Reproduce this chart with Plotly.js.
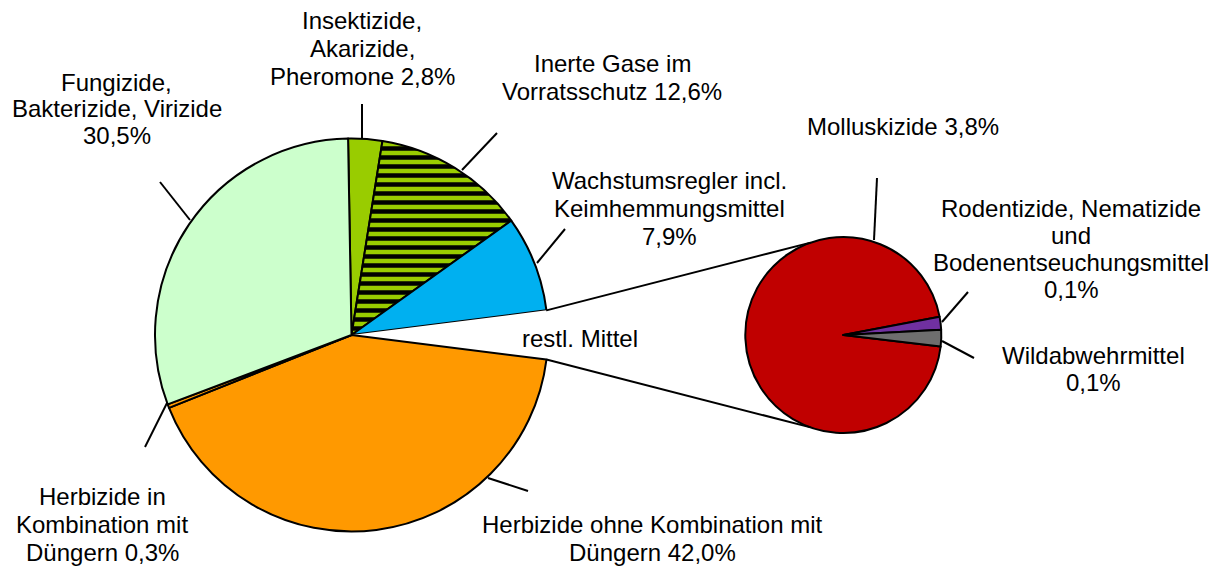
<!DOCTYPE html>
<html><head><meta charset="utf-8">
<script src="https://cdn.plot.ly/plotly-3.0.1.min.js"></script>
<style>html,body{margin:0;padding:0;background:#fff}</style>
</head><body><div id="chart" style="width:1218px;height:567px"></div>
<script>
// ---- data ----
const mainLabels = ['Insektizide, Akarizide, Pheromone', 'Inerte Gase im Vorratsschutz', 'Wachstumsregler incl. Keimhemmungsmittel', 'restl. Mittel', 'Herbizide ohne Kombination mit Düngern', 'Herbizide in Kombination mit Düngern', 'Fungizide, Bakterizide, Virizide'];
const mainValues = [2.8, 12.6, 7.9, 4.0, 42.0, 0.3, 30.5];
const subLabels = ['Molluskizide', 'Rodentizide, Nematizide und Bodenentseuchungsmittel', 'Wildabwehrmittel'];
const subValues = [3.8, 0.085, 0.11];
const labelTexts = [
  'Insektizide,<br>Akarizide,<br>Pheromone 2,8%',
  'Inerte Gase im<br>Vorratsschutz 12,6%',
  'Wachstumsregler incl.<br>Keimhemmungsmittel<br>7,9%',
  'restl. Mittel',
  'Herbizide ohne Kombination mit<br>Düngern 42,0%',
  'Herbizide in<br>Kombination mit<br>Düngern 0,3%',
  'Fungizide,<br>Bakterizide, Virizide<br>30,5%',
  'Molluskizide 3,8%',
  'Rodentizide, Nematizide<br>und<br>Bodenentseuchungsmittel<br>0,1%',
  'Wildabwehrmittel<br>0,1%'
];

// ---- styles / layout ----
const mainColors = ['#99CC00', '#99CC00', '#00B0F0', '#FFFFFF', '#FF9900', '#FF9900', '#CCFFCC'];
const mainPattern = ['', '-', '', '', '', '', ''];
const mainLineW = [2, 2, 2, 0, 2, 2, 2];
const subColors = ['#C00000', '#7030A0', '#6E6E6E'];
const W = 1218, H = 567;
const M = {cx: 351.5, cy: 335, r: 196.5, rot: -1};
const S = {cx: 843.3, cy: 335, r: 98, rot: 96.8};
// label placement: [center x px, first line y px, line step px]
const labelPos = [
  [362, 20, 28], [612, 63, 28], [669, 181, 28], [580, 338, 28], [652, 524, 28.5],
  [102, 496, 28], [117, 82, 26.5], [903, 126, 28], [1071, 208, 27], [1093, 355, 27.5]
];
// leader lines in px
const leaders = [
  [362, 104, 362, 138], [497, 133, 462, 170], [565, 229, 537, 263], [528, 491, 488, 478],
  [145, 447, 167, 403], [160, 182, 190, 220], [877, 178, 874, 240], [968, 292, 942, 322], [974, 358, 942, 341]
];

const X = p => p / W, Y = p => 1 - p / H;
const onCircle = (c, a) => [c.cx + c.r * Math.sin(a * Math.PI / 180), c.cy - c.r * Math.cos(a * Math.PI / 180)];

const total = mainValues.reduce((a, b) => a + b, 0);
const restIdx = 3;
const before = mainValues.slice(0, restIdx).reduce((a, b) => a + b, 0);
const aStart = M.rot + before / total * 360;
const aEnd = aStart + mainValues[restIdx] / total * 360;

const shapes = [];
const line = (x0, y0, x1, y1) => ({type: 'line', xref: 'paper', yref: 'paper', x0: X(x0), y0: Y(y0), x1: X(x1), y1: Y(y1), line: {color: 'black', width: 2}});
const p1 = onCircle(M, aStart), p2 = onCircle(M, aEnd);
const q1 = onCircle(S, 270 + 70.5), q2 = onCircle(S, 270 - 70.5);
shapes.push(line(p1[0], p1[1], q1[0], q1[1]));
shapes.push(line(p2[0], p2[1], q2[0], q2[1]));
leaders.forEach(l => shapes.push(line(l[0], l[1], l[2], l[3])));

const font = {family: 'Liberation Sans, Arial, sans-serif', size: 24, color: 'black'};
const annotations = [];
labelTexts.forEach((t, i) => {
  const [cx, y0, step] = labelPos[i];
  t.split('<br>').forEach((ln, k) => {
    annotations.push({xref: 'paper', yref: 'paper', x: X(cx), y: Y(y0 + k * step), text: ln, showarrow: false,
      xanchor: 'center', yanchor: 'middle', font: font});
  });
});

const traces = [
  {type: 'pie', labels: mainLabels, values: mainValues, sort: false, direction: 'clockwise', rotation: M.rot,
   textinfo: 'none', hoverinfo: 'label+percent', showlegend: false,
   domain: {x: [X(M.cx - M.r), X(M.cx + M.r)], y: [Y(M.cy + M.r), Y(M.cy - M.r)]},
   marker: {colors: mainColors, line: {color: 'black', width: mainLineW},
     pattern: {shape: mainPattern, fgcolor: 'black', bgcolor: mainColors, size: 9, solidity: 0.5, fillmode: 'replace'}}},
  {type: 'pie', labels: subLabels, values: subValues, sort: false, direction: 'clockwise', rotation: S.rot,
   textinfo: 'none', hoverinfo: 'label+percent', showlegend: false,
   domain: {x: [X(S.cx - S.r), X(S.cx + S.r)], y: [Y(S.cy + S.r), Y(S.cy - S.r)]},
   marker: {colors: subColors, line: {color: 'black', width: 2}}}
];

Plotly.newPlot('chart', traces, {
  width: W, height: H, margin: {l: 0, r: 0, t: 0, b: 0},
  paper_bgcolor: 'white', plot_bgcolor: 'white', showlegend: false,
  shapes: shapes, annotations: annotations
}, {displayModeBar: false});
</script></body></html>
